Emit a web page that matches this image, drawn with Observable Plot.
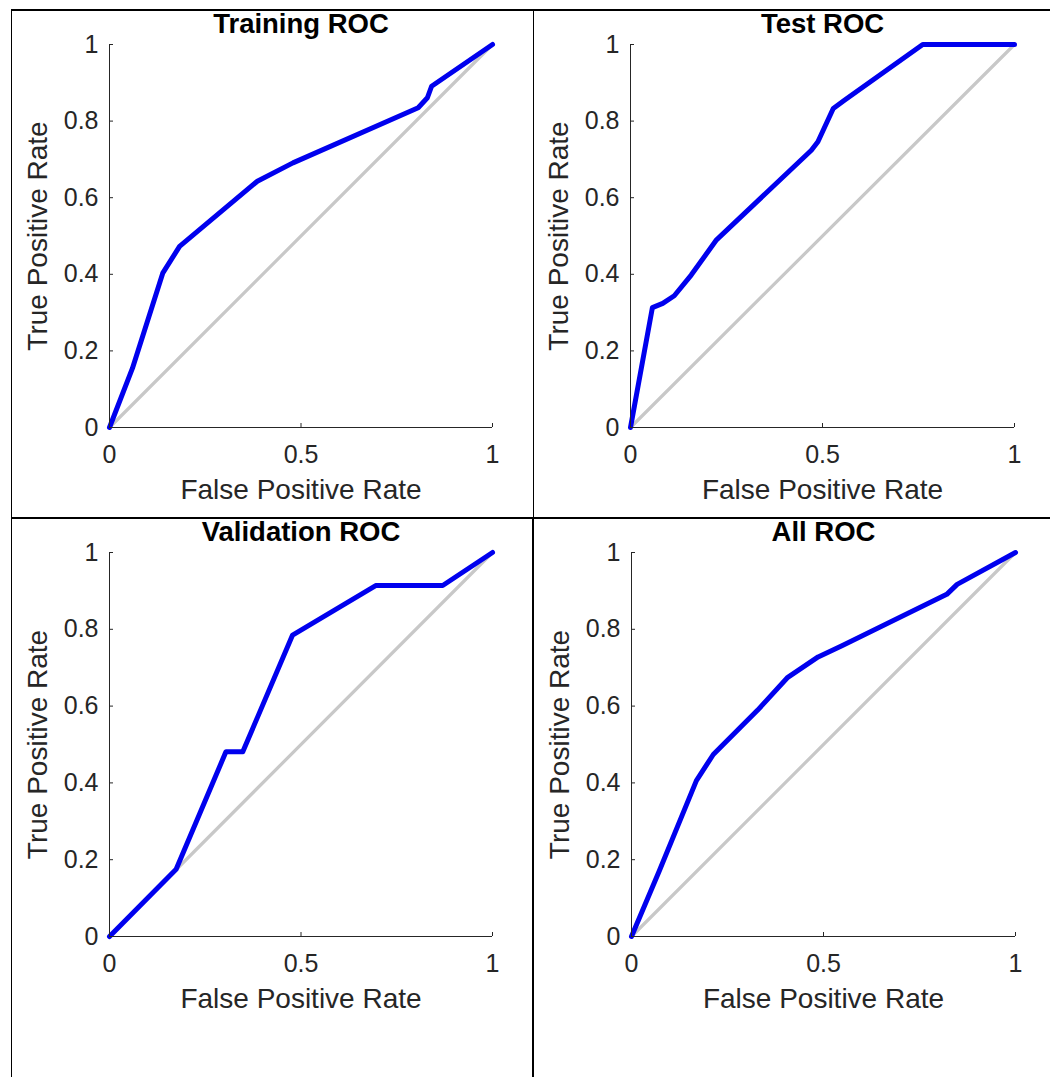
<!DOCTYPE html>
<html>
<head>
<meta charset="utf-8">
<script src="https://cdn.jsdelivr.net/npm/d3@7"></script>
<script src="https://cdn.jsdelivr.net/npm/@observablehq/plot@0.6"></script>
<style>
  body { margin: 0; background: #fff; }
  #wrap { position: relative; width: 1050px; height: 1077px; overflow: hidden; background: #fff;
          font-family: "Liberation Sans", Arial, Helvetica, sans-serif; }
  .panel { position: absolute; }
  .bl { position: absolute; background: #000; z-index: 5; }
</style>
</head>
<body>
<div id="wrap"></div>
<script>
// ---------------- data ----------------
const titles = ["Training ROC", "Test ROC", "Validation ROC", "All ROC"];
const xLabel = "False Positive Rate";
const yLabel = "True Positive Rate";
const xTicks = [0, 0.5, 1];
const yTicks = [0, 0.2, 0.4, 0.6, 0.8, 1];
const diagonal = [0, 1];

const trainingFPR = [0, 0.06, 0.139, 0.183, 0.386, 0.479, 0.806, 0.830, 0.841, 1];
const trainingTPR = [0, 0.155, 0.403, 0.473, 0.643, 0.691, 0.835, 0.861, 0.891, 1];

const testFPR = [0, 0.057, 0.084, 0.114, 0.158, 0.224, 0.471, 0.488, 0.528, 0.558, 0.761, 1];
const testTPR = [0, 0.313, 0.324, 0.344, 0.398, 0.490, 0.724, 0.746, 0.833, 0.855, 1, 1];

const validationFPR = [0, 0.174, 0.304, 0.348, 0.478, 0.695, 0.870, 1];
const validationTPR = [0, 0.175, 0.481, 0.481, 0.785, 0.914, 0.914, 1];

const allFPR = [0, 0.072, 0.169, 0.213, 0.328, 0.407, 0.486, 0.548, 0.821, 0.848, 1];
const allTPR = [0, 0.170, 0.406, 0.474, 0.589, 0.675, 0.728, 0.757, 0.891, 0.917, 1];

const series = [
  [trainingFPR, trainingTPR],
  [testFPR, testTPR],
  [validationFPR, validationTPR],
  [allFPR, allTPR]
];

// ---------------- layout (style) ----------------
const layout = [
  {left: 0,   top: 0,   width: 520, height: 510, ml: 109, mr: 28, mt: 44, mb: 83},
  {left: 520, top: 0,   width: 530, height: 510, ml: 110, mr: 36, mt: 44, mb: 83},
  {left: 0,   top: 508, width: 520, height: 510, ml: 109, mr: 28, mt: 44, mb: 82},
  {left: 520, top: 508, width: 530, height: 510, ml: 111, mr: 35, mt: 44, mb: 82}
];

const wrap = document.getElementById("wrap");
const axisColor = "#262626";

titles.forEach((title, i) => {
  const L = layout[i];
  const [fpr, tpr] = series[i];
  const pts = fpr.map((x, j) => ({x, y: tpr[j]}));
  const chart = Plot.plot({
    width: L.width,
    height: L.height,
    marginLeft: L.ml,
    marginRight: L.mr,
    marginTop: L.mt,
    marginBottom: L.mb,
    style: {background: "transparent", fontFamily: '"Liberation Sans", Arial, Helvetica, sans-serif', color: axisColor, overflow: "visible"},
    x: {domain: [0, 1], axis: null},
    y: {domain: [0, 1], axis: null},
    marks: [
      Plot.line(diagonal, {x: d => d, y: d => d, stroke: "#c8c8c8", strokeWidth: 3.2}),
      Plot.line(pts, {x: "x", y: "y", stroke: "#0000ee", strokeWidth: 5, strokeLinejoin: "round", strokeLinecap: "round"}),
      Plot.ruleY([0], {stroke: axisColor, strokeWidth: 1}),
      Plot.ruleX([0], {stroke: axisColor, strokeWidth: 1}),
      Plot.axisX({ticks: xTicks, tickFormat: d => String(d), tickSize: -4, tickPadding: 22, fontSize: 25, label: null, stroke: axisColor}),
      Plot.axisY({ticks: yTicks, tickFormat: d => String(d), tickSize: -4, tickPadding: 15, fontSize: 25, label: null, stroke: axisColor}),
      Plot.text([title], {frameAnchor: "top", dy: -12, lineAnchor: "bottom", textAnchor: "middle", fontSize: 27.5, fontWeight: "bold", fill: "#000"}),
      Plot.text([xLabel], {frameAnchor: "bottom", dy: 71, lineAnchor: "bottom", textAnchor: "middle", fontSize: 28, fill: axisColor}),
      Plot.text([yLabel], {frameAnchor: "left", dx: -63, rotate: -90, lineAnchor: "bottom", textAnchor: "middle", fontSize: 28, fill: axisColor})
    ]
  });
  chart.classList.add("panel");
  chart.style.left = L.left + "px";
  chart.style.top = L.top + "px";
  wrap.appendChild(chart);
});

// table borders
const borders = [
  {left: 11, top: 9, width: 1039, height: 1.5},
  {left: 10.5, top: 9, width: 1.5, height: 1068},
  {left: 532.5, top: 9, width: 1.5, height: 508},
  {left: 532, top: 517, width: 2, height: 560},
  {left: 11, top: 517, width: 1039, height: 2}
];
borders.forEach(b => {
  const d = document.createElement("div");
  d.className = "bl";
  d.style.left = b.left + "px";
  d.style.top = b.top + "px";
  d.style.width = b.width + "px";
  d.style.height = b.height + "px";
  wrap.appendChild(d);
});
</script>
</body>
</html>
